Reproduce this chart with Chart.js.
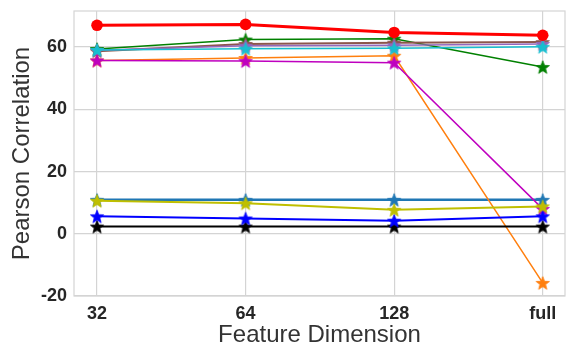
<!DOCTYPE html>
<html>
<head>
<meta charset="utf-8">
<script src="https://cdn.jsdelivr.net/npm/chart.js@4/dist/chart.umd.min.js"></script>
<style>
  html, body { margin: 0; padding: 0; background: #fff; }
  #wrap { width: 576px; height: 360px; }
</style>
</head>
<body>
<div id="wrap"><canvas id="chart" width="576" height="360"></canvas></div>
<script>
// x categories (feature dimension)
const dims = ["32", "64", "128", "full"];

// series values (Pearson correlation)
const redVals       = [67.0, 67.3, 64.7, 63.8];
const cyanVals      = [59.1, 59.5, 59.6, 60.1];
const yellowVals    = [10.6, 9.8, 7.7, 8.8];
const blueVals      = [5.6, 4.9, 4.2, 5.6];
const blackVals     = [2.3, 2.3, 2.3, 2.3];
const magentaVals   = [55.7, 55.5, 55.0, 8.0];
const purpleVals    = [59.0, 60.4, 60.6, 61.0];
const brownVals     = [58.7, 61.0, 61.4, 61.6];
const greenVals     = [59.4, 62.4, 62.7, 53.6];
const orangeVals    = [55.7, 56.5, 57.2, -15.8];
const steelVals     = [10.9, 10.9, 10.9, 10.9];

const yTicks = [-20, 0, 20, 40, 60];

// filled five point star, like matplotlib's '*'
function starImage(color, r) {
    const size = Math.ceil(r * 2 + 2);
    const c = document.createElement("canvas");
    c.width = size; c.height = size;
    const g = c.getContext("2d");
    const cx = size / 2, cy = size / 2 + r * 0.1;
    const inner = r * 0.42;
    g.beginPath();
    for (let i = 0; i < 10; i++) {
        const rad = i % 2 === 0 ? r : inner;
        const a = -Math.PI / 2 + i * Math.PI / 5;
        const px = cx + rad * Math.cos(a), py = cy + rad * Math.sin(a);
        if (i === 0) g.moveTo(px, py); else g.lineTo(px, py);
    }
    g.closePath();
    g.fillStyle = color;
    g.fill();
    g.lineWidth = 0.8;
    g.strokeStyle = color;
    g.stroke();
    return c;
}

function series(vals, color, width, marker) {
    return {
        data: vals.map((v, i) => ({ x: i, y: v })),
        borderColor: color,
        backgroundColor: color,
        borderWidth: width,
        pointStyle: marker || starImage(color, 7),
        pointRadius: marker ? 5.8 : 7,
        pointBorderWidth: 0,
        tension: 0,
    };
}

// first dataset is drawn on top
const datasets = [
    series(redVals, "#ff0000", 3, "circle"),
    series(cyanVals, "#17becf", 1.5),
    series(yellowVals, "#bfbf00", 2),
    series(blueVals, "#0000ff", 2),
    series(blackVals, "#000000", 2),
    series(magentaVals, "#bf00bf", 1.5),
    series(purpleVals, "#9467bd", 1.5),
    series(brownVals, "#8c564b", 2),
    series(greenVals, "#008000", 1.5),
    series(orangeVals, "#ff7f0e", 1.5),
    series(steelVals, "#1f77b4", 2.5),
];

const frame = {
    id: "frame",
    beforeDatasetsDraw(chart) {
        const { ctx, chartArea: a } = chart;
        ctx.save();
        ctx.strokeStyle = "#d4d4d4";
        ctx.lineWidth = 1.2;
        ctx.strokeRect(a.left, a.top, a.right - a.left, a.bottom - a.top);
        ctx.restore();
    }
};

const tickFont = { family: "'Liberation Sans', Arial, sans-serif", size: 18, weight: "bold" };
const titleFont = { family: "'Liberation Sans', Arial, sans-serif", size: 24, weight: "normal" };

new Chart(document.getElementById("chart"), {
    type: "line",
    data: { datasets },
    plugins: [frame],
    options: {
        responsive: false,
        animation: false,
        events: [],
        layout: { padding: { top: 11, right: 11, left: 0, bottom: 0 } },
        plugins: { legend: { display: false }, tooltip: { enabled: false } },
        scales: {
            x: {
                type: "linear",
                min: -0.155,
                max: 3.15,
                afterBuildTicks: (s) => { s.ticks = dims.map((d, i) => ({ value: i })); },
                afterFit: (s) => { s.height = 64; s.paddingLeft = 0; s.paddingRight = 0; },
                ticks: {
                    callback: (v) => dims[v],
                    font: tickFont, color: "#262626", padding: 7, maxRotation: 0,
                },
                grid: { color: "#d4d4d4", lineWidth: 1.2, drawTicks: false },
                border: { display: false },
                title: { display: true, text: "Feature Dimension", font: titleFont, color: "#333333", padding: { top: 0, bottom: 10 } },
            },
            y: {
                min: -20,
                max: 71.6,
                afterBuildTicks: (s) => { s.ticks = yTicks.map((v) => ({ value: v })); },
                afterFit: (s) => { s.width = 74; s.paddingTop = 0; s.paddingBottom = 0; },
                ticks: { font: tickFont, color: "#262626", padding: 7 },
                grid: { color: "#d4d4d4", lineWidth: 1.2, drawTicks: false },
                border: { display: false },
                title: { display: true, text: "Pearson Correlation", font: titleFont, color: "#333333", padding: { top: 8, bottom: 0 } },
            },
        },
    },
});
</script>
</body>
</html>
